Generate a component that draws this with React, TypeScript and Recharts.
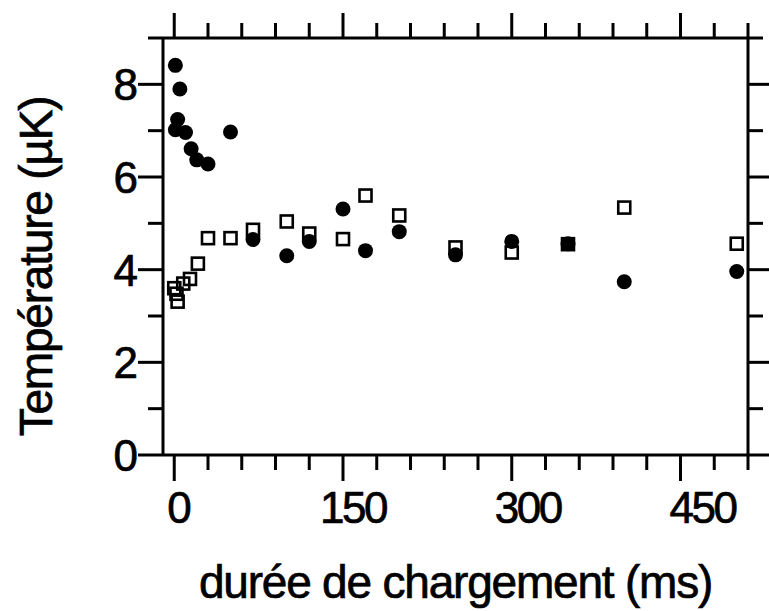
import { ScatterChart, Scatter, XAxis, YAxis } from 'recharts';

// filled circles
const circleX = [1, 5, 3, 1, 10, 15, 20, 30, 50, 70, 100, 120, 150, 170, 200, 250, 300, 350, 400, 500];
const circleY = [8.41, 7.9, 7.24, 7.02, 6.96, 6.61, 6.37, 6.28, 6.97, 4.65, 4.3, 4.61, 5.31, 4.41, 4.82, 4.32, 4.61, 4.56, 3.74, 3.96];

// open squares
const squareX = [0, 2, 3, 8, 14, 21, 30, 50, 70, 100, 120, 150, 170, 200, 250, 300, 350, 400, 500];
const squareY = [3.6, 3.48, 3.31, 3.7, 3.8, 4.13, 4.68, 4.68, 4.86, 5.04, 4.78, 4.66, 5.6, 5.17, 4.48, 4.37, 4.55, 5.34, 4.56];

const xTicks = [0, 30, 60, 90, 120, 150, 180, 210, 240, 270, 300, 330, 360, 390, 420, 450, 480, 510];
const xLabels = [0, 150, 300, 450];
const yTicks = [0, 1, 2, 3, 4, 5, 6, 7, 8, 9];
const yLabels = [0, 2, 4, 6, 8];

const circles = circleX.map((x, i) => ({ x, y: circleY[i] }));
const squares = squareX.map((x, i) => ({ x, y: squareY[i] }));

const FONT = '"Liberation Sans", Arial, Helvetica, sans-serif';
const INK = '#000';
const textStyle = { fontFamily: FONT, fill: INK, stroke: INK, strokeWidth: 0.7 };

const Dot = (props: any) => <circle cx={props.cx} cy={props.cy} r={7.5} fill={INK} />;
const Box = (props: any) => (
  <rect x={props.cx - 6} y={props.cy - 6} width={12} height={12} fill="none" stroke={INK} strokeWidth={2.6} />
);

const BottomTick = (props: any) => {
  const { x, y, payload } = props;
  const major = xLabels.includes(payload.value);
  return (
    <g>
      <line x1={x} y1={y} x2={x} y2={y + (major ? 26 : 15)} stroke={INK} strokeWidth={3} />
      {major && (
        <text x={x + 4 + payload.value * 0.04} y={y + 68} textAnchor="middle" fontSize={44} letterSpacing={-2.5} style={textStyle}>
          {payload.value}
        </text>
      )}
    </g>
  );
};

const TopTick = (props: any) => {
  const { x, y, payload } = props;
  const major = xLabels.includes(payload.value);
  return <line x1={x} y1={y} x2={x} y2={y - (major ? 25 : 15)} stroke={INK} strokeWidth={3} />;
};

const LeftTick = (props: any) => {
  const { x, y, payload } = props;
  const major = yLabels.includes(payload.value);
  return (
    <g>
      <line x1={x - (major ? 25 : 15)} y1={y} x2={x} y2={y} stroke={INK} strokeWidth={3} />
      {major && (
        <text x={x - 25} y={y + 16} textAnchor="end" fontSize={44} style={textStyle}>
          {payload.value}
        </text>
      )}
    </g>
  );
};

const RightTick = (props: any) => {
  const { x, y, payload } = props;
  const major = yLabels.includes(payload.value);
  return <line x1={x} y1={y} x2={x + (major ? 25 : 15)} y2={y} stroke={INK} strokeWidth={3} />;
};

const XTitle = (props: any) => {
  const { x, y, width, height } = props.viewBox;
  return (
    <text x={x + width / 2} y={y + height - 13} textAnchor="middle" fontSize={46} letterSpacing={-1.2} style={textStyle}>
      durée de chargement (ms)
    </text>
  );
};

const YTitle = (props: any) => {
  const { y, height } = props.viewBox;
  const cx = 52;
  const cy = y + height / 2 + 20;
  return (
    <text x={cx} y={cy} transform={`rotate(-90, ${cx}, ${cy})`} textAnchor="middle" fontSize={46} letterSpacing={-1.2} style={textStyle}>
      Température (µK)
    </text>
  );
};

export default function App() {
  return (
    <div style={{ position: 'absolute', left: 0, top: 0, width: 769, height: 611, background: '#fff' }}>
      <ScatterChart width={769} height={611} margin={{ top: 0, right: 0, bottom: 0, left: 0 }}>
        <XAxis
          xAxisId="bottom"
          type="number"
          dataKey="x"
          domain={[-10, 510]}
          ticks={xTicks}
          interval={0}
          height={156}
          tickSize={0}
          tickMargin={0}
          tickLine={false}
          axisLine={{ stroke: INK, strokeWidth: 3 }}
          tick={<BottomTick />}
          label={<XTitle />}
          allowDataOverflow
        />
        <XAxis
          xAxisId="top"
          orientation="top"
          type="number"
          dataKey="x"
          domain={[-10, 510]}
          ticks={xTicks}
          interval={0}
          height={38}
          tickSize={0}
          tickMargin={0}
          tickLine={false}
          axisLine={{ stroke: INK, strokeWidth: 3 }}
          tick={<TopTick />}
          allowDataOverflow
        />
        <YAxis
          yAxisId="left"
          type="number"
          dataKey="y"
          domain={[0, 9]}
          ticks={yTicks}
          interval={0}
          width={163}
          tickSize={0}
          tickMargin={0}
          tickLine={false}
          axisLine={{ stroke: INK, strokeWidth: 3 }}
          tick={<LeftTick />}
          label={<YTitle />}
          allowDataOverflow
        />
        <YAxis
          yAxisId="right"
          orientation="right"
          type="number"
          dataKey="y"
          domain={[0, 9]}
          ticks={yTicks}
          interval={0}
          width={21}
          tickSize={0}
          tickMargin={0}
          tickLine={false}
          axisLine={{ stroke: INK, strokeWidth: 3 }}
          tick={<RightTick />}
          allowDataOverflow
        />
        <Scatter data={squares} xAxisId="bottom" yAxisId="left" shape={<Box />} isAnimationActive={false} />
        <Scatter data={circles} xAxisId="bottom" yAxisId="left" shape={<Dot />} isAnimationActive={false} />
      </ScatterChart>
    </div>
  );
}
